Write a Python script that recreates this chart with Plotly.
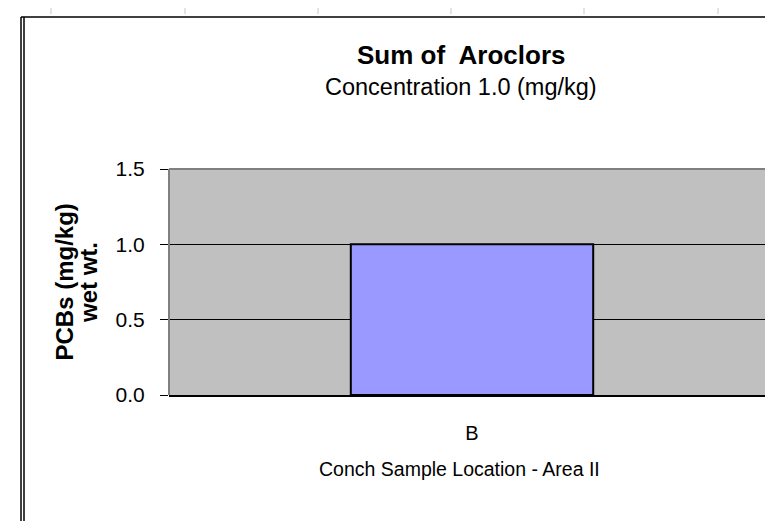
import plotly.graph_objects as go

categories = ["B"]
values = [1.0]
y_ticks = [0.0, 0.5, 1.0, 1.5]
y_tick_labels = ["0.0", "0.5", "1.0", "1.5"]

W, H = 773, 521
L, R, T, B = 161, 6, 161, 134
pw, ph = W - L - R, H - T - B

def px_x(x):
    return (x - L) / pw

def px_y(y):
    return (H - B - y) / ph

FONT = "Liberation Sans, Arial, sans-serif"

fig = go.Figure(go.Bar(
    x=categories, y=values,
    marker=dict(color="#9999FF", line=dict(color="black", width=2)),
    width=0.4,
))

shapes = [
    # plot area border (gray) top, left, right
    dict(type="line", xref="paper", yref="paper", x0=0, x1=1, y0=1, y1=1,
         line=dict(color="#808080", width=2)),
    dict(type="line", xref="paper", yref="paper", x0=0, x1=0, y0=0, y1=1,
         line=dict(color="#808080", width=2)),
    dict(type="line", xref="paper", yref="paper", x0=1, x1=1, y0=0, y1=1,
         line=dict(color="#808080", width=2)),
    # right end tick of category axis
    dict(type="line", xref="paper", yref="paper", x0=px_x(768), x1=px_x(768),
         y0=0, y1=px_y(397), line=dict(color="black", width=1.5)),
    # outer frame
    dict(type="line", xref="paper", yref="paper", x0=px_x(13), x1=px_x(13),
         y0=px_y(9), y1=px_y(530), line=dict(color="black", width=1.5)),
    dict(type="line", xref="paper", yref="paper", x0=px_x(16), x1=px_x(16),
         y0=px_y(9), y1=px_y(530), line=dict(color="black", width=1.5)),
    dict(type="line", xref="paper", yref="paper", x0=px_x(13), x1=px_x(780),
         y0=px_y(9), y1=px_y(9), line=dict(color="black", width=1.5)),
]
# faint page marks along the top edge
for mx in [43, 177, 310, 443, 576, 710]:
    shapes.append(dict(type="line", xref="paper", yref="paper",
                       x0=px_x(mx), x1=px_x(mx), y0=px_y(0), y1=px_y(6),
                       line=dict(color="#C8C8C8", width=1)))

fig.update_layout(
    width=W, height=H,
    margin=dict(l=L, r=R, t=T, b=B),
    paper_bgcolor="white", plot_bgcolor="#C0C0C0",
    showlegend=False,
    font=dict(family=FONT, color="black"),
    xaxis=dict(
        range=[-0.5, 0.5], showgrid=False, zeroline=False,
        showline=True, linecolor="black", linewidth=2,
        ticks="", tickfont=dict(size=20), ticklabelstandoff=19,
    ),
    yaxis=dict(
        range=[0, 1.5], tickvals=y_ticks, ticktext=y_tick_labels,
        showgrid=True, gridcolor="black", gridwidth=1,
        zeroline=False, showline=False,
        ticks="outside", ticklen=8, tickcolor="black", tickwidth=1,
        tickfont=dict(size=21), ticklabelstandoff=11,
    ),
    annotations=[
        dict(text="<b>Sum of\u00a0 Aroclors</b>", xref="paper", yref="paper",
             x=px_x(453), y=px_y(46.7), showarrow=False,
             font=dict(size=26), xanchor="center", yanchor="middle"),
        dict(text="Concentration 1.0 (mg/kg)", xref="paper", yref="paper",
             x=px_x(453), y=px_y(79), showarrow=False,
             font=dict(size=23.5), xanchor="center", yanchor="middle"),
        dict(text="<b>PCBs (mg/kg)</b>", xref="paper", yref="paper",
             x=px_x(55.5), y=px_y(274), showarrow=False, textangle=-90,
             font=dict(size=24), xanchor="center", yanchor="middle"),
        dict(text="<b>wet wt.</b>", xref="paper", yref="paper",
             x=px_x(80), y=px_y(275), showarrow=False, textangle=-90,
             font=dict(size=24), xanchor="center", yanchor="middle"),
        dict(text="Conch Sample Location - Area II", xref="paper", yref="paper",
             x=px_x(451), y=px_y(461), showarrow=False,
             font=dict(size=19.5), xanchor="center", yanchor="middle"),
    ],
    shapes=shapes,
)

fig.write_html("out.html")
